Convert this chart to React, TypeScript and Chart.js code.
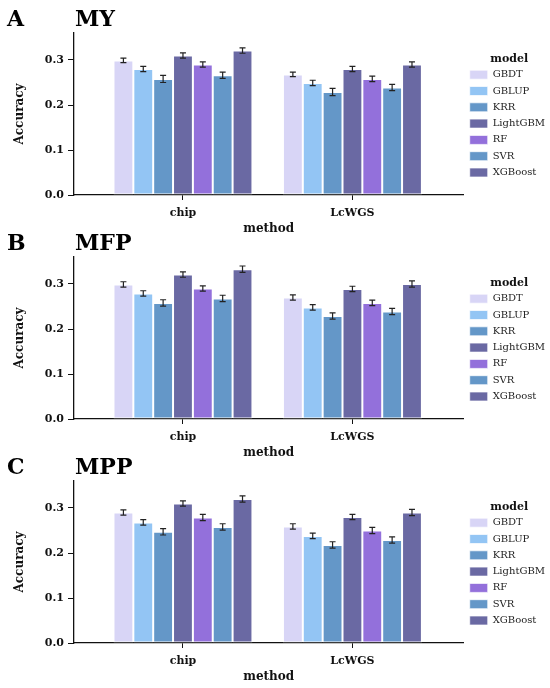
import { useEffect, useRef } from "react";
import { Chart, registerables, type Plugin } from "chart.js";

Chart.register(...registerables);

const models = ["GBDT", "GBLUP", "KRR", "LightGBM", "RF", "SVR", "XGBoost"];
const methods = ["chip", "LcWGS"];
const modelColors = ["#d8d5f6", "#93c5f4", "#6497c8", "#6a69a3", "#9370db", "#6497c8", "#6a69a3"];
const yTicks = [0, 0.1, 0.2, 0.3];

// accuracy per model, [chip, LcWGS]
const myChip = [0.299, 0.28, 0.258, 0.31, 0.29, 0.266, 0.321];
const myLcwgs = [0.268, 0.249, 0.229, 0.28, 0.258, 0.239, 0.29];
const myErr = [0.005, 0.006, 0.008, 0.006, 0.006, 0.007, 0.006];

const mfpChip = [0.299, 0.279, 0.258, 0.321, 0.29, 0.268, 0.333];
const mfpLcwgs = [0.27, 0.248, 0.229, 0.289, 0.258, 0.239, 0.3];
const mfpErr = [0.006, 0.006, 0.007, 0.006, 0.006, 0.007, 0.007];

const mppChip = [0.29, 0.268, 0.247, 0.31, 0.279, 0.258, 0.32];
const mppLcwgs = [0.259, 0.238, 0.218, 0.28, 0.25, 0.229, 0.29];
const mppErr = [0.006, 0.006, 0.007, 0.006, 0.007, 0.007, 0.007];

const panels = [
  { letter: "A", title: "MY", chip: myChip, lcwgs: myLcwgs, err: myErr },
  { letter: "B", title: "MFP", chip: mfpChip, lcwgs: mfpLcwgs, err: mfpErr },
  { letter: "C", title: "MPP", chip: mppChip, lcwgs: mppLcwgs, err: mppErr },
];

const FONT = "'DejaVu Serif', serif";
const W = 550;
const H = 236;

// draws the black error bars over each bar
const errorBars: Plugin<"bar"> = {
  id: "errorBars",
  afterDatasetsDraw(chart) {
    const { ctx } = chart;
    const yScale = chart.scales.y;
    ctx.save();
    ctx.strokeStyle = "#222";
    ctx.lineWidth = 1.2;
    chart.data.datasets.forEach((ds, i) => {
      const meta = chart.getDatasetMeta(i);
      const errs = (ds as any).errors as number[];
      meta.data.forEach((el, j) => {
        const pt = ds.data[j] as any;
        const top = yScale.getPixelForValue(pt.y + errs[j]);
        const bot = yScale.getPixelForValue(pt.y - errs[j]);
        const x = el.x;
        ctx.beginPath();
        ctx.moveTo(x, top);
        ctx.lineTo(x, bot);
        ctx.moveTo(x - 3, top);
        ctx.lineTo(x + 3, top);
        ctx.moveTo(x - 3, bot);
        ctx.lineTo(x + 3, bot);
        ctx.stroke();
      });
    });
    ctx.restore();
  },
};

function Panel({ chip, lcwgs, err }: { chip: number[]; lcwgs: number[]; err: number[] }) {
  const canvasRef = useRef<HTMLCanvasElement>(null);

  useEffect(() => {
    if (!canvasRef.current) return;
    const chart = new Chart(canvasRef.current, {
      type: "bar",
      data: {
        datasets: models.map((m, i) => ({
          label: m,
          data: [
            { x: 0, y: chip[i] },
            { x: 1, y: lcwgs[i] },
          ],
          errors: [err[i], err[i]],
          backgroundColor: modelColors[i],
          borderColor: "rgba(255,255,255,0.7)",
          borderWidth: 1,
          borderSkipped: false,
          categoryPercentage: 0.82,
          barPercentage: 1,
        })) as any,
      },
      options: {
        responsive: false,
        animation: false,
        layout: { padding: { top: 33, left: 13, right: -5, bottom: 0 } },
        plugins: {
          tooltip: { enabled: false },
          legend: {
            position: "right",
            fullSize: false,
            align: "center",
            title: {
              display: true,
              text: "model",
              color: "#111",
              font: { family: FONT, size: 11, weight: "bold" },
              padding: { top: 9, bottom: -3 },
            },
            labels: {
              boxWidth: 18,
              boxHeight: 9,
              padding: 6.3,
              color: "#222",
              font: { family: FONT, size: 10 },
            },
          },
        },
        scales: {
          x: {
            type: "linear",
            min: -0.643,
            max: 1.655,
            offset: false,
            afterBuildTicks: (scale) => {
              scale.ticks = methods.map((_, i) => ({ value: i }));
            },
            afterFit: (scale) => {
              scale.height = H - 195;
            },
            ticks: {
              padding: 7,
              color: "#111",
              font: { family: FONT, size: 11, weight: "bold" },
              callback: (v) => methods[Number(v)] ?? "",
            },
            grid: { display: true, drawOnChartArea: false, drawTicks: true, tickLength: 5, color: "#111", offset: false },
            border: { display: true, color: "#111", width: 1.3 },
            title: {
              display: true,
              text: "method",
              color: "#111",
              font: { family: FONT, size: 12, weight: "bold" },
              padding: 0,
            },
          },
          y: {
            min: 0,
            max: 0.36,
            afterBuildTicks: (scale) => {
              scale.ticks = yTicks.map((v) => ({ value: v }));
            },
            afterFit: (scale) => {
              scale.width = 74 - 13;
            },
            ticks: {
              padding: 4,
              color: "#111",
              font: { family: FONT, size: 11, weight: "bold" },
              callback: (v) => Number(v).toFixed(1),
            },
            grid: { display: true, drawOnChartArea: false, drawTicks: true, tickLength: 6, color: "#111" },
            border: { display: true, color: "#111", width: 1.3 },
            title: {
              display: true,
              text: "Accuracy",
              color: "#111",
              font: { family: FONT, size: 12, weight: "bold" },
              padding: 0,
            },
          },
        },
      },
      plugins: [errorBars],
    });
    return () => chart.destroy();
  }, [chip, lcwgs, err]);

  return <canvas ref={canvasRef} width={W} height={H} style={{ width: W, height: H, display: "block" }} />;
}

export default function App() {
  return (
    <div style={{ position: "fixed", left: 0, top: 0, width: W, height: 688, background: "#fff" }}>
      {panels.map((p, k) => (
        <div key={p.letter} style={{ position: "absolute", left: 0, top: k * 224, width: W, height: H }}>
          <Panel chip={p.chip} lcwgs={p.lcwgs} err={p.err} />
          <div
            style={{
              position: "absolute",
              left: 7,
              top: 7,
              font: `bold 22px ${FONT}`,
              lineHeight: "22px",
              color: "#000",
            }}
          >
            {p.letter}
          </div>
          <div
            style={{
              position: "absolute",
              left: 75,
              top: 7,
              font: `bold 22px ${FONT}`,
              lineHeight: "22px",
              color: "#000",
            }}
          >
            {p.title}
          </div>
        </div>
      ))}
    </div>
  );
}
